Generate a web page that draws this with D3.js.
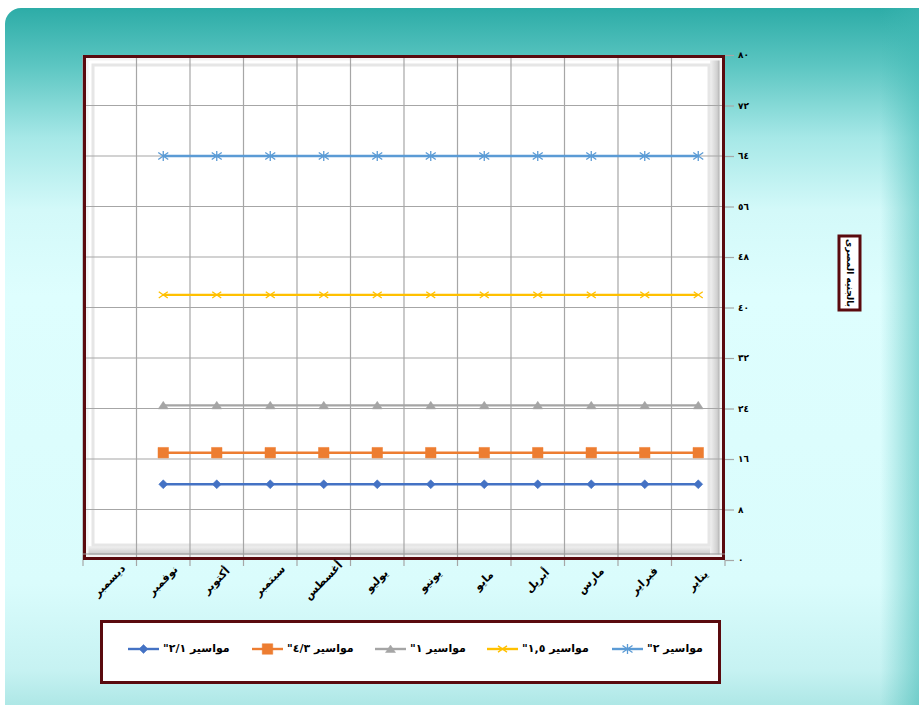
<!DOCTYPE html>
<html><head><meta charset="utf-8">
<script src="https://cdn.jsdelivr.net/npm/d3@7"></script>
<style>html,body{margin:0;padding:0;background:#fff}svg{display:block}</style>
</head><body><svg id="c" width="919" height="705"></svg>
<script>
// ---- data ----
const months = ['يناير','فبراير','مارس','أبريل','مايو','يونيو','يوليو','أغسطس','سبتمبر','أكتوبر','نوفمبر','ديسمبر'];
const seriesNames = ['مواسير ٢/١"','مواسير ٤/٣"','مواسير ١"','مواسير ١,٥"','مواسير ٢"'];
const pipeHalf      = [12,12,12,12,12,12,12,12,12,12,12,null];
const pipeThreeQtr  = [17,17,17,17,17,17,17,17,17,17,17,null];
const pipeOne       = [24.5,24.5,24.5,24.5,24.5,24.5,24.5,24.5,24.5,24.5,24.5,null];
const pipeOneHalf   = [42,42,42,42,42,42,42,42,42,42,42,null];
const pipeTwo       = [64,64,64,64,64,64,64,64,64,64,64,null];
const yTicks = [0,8,16,24,32,40,48,56,64,72,80];
const yTickLabels = ['٠','٨','١٦','٢٤','٣٢','٤٠','٤٨','٥٦','٦٤','٧٢','٨٠'];
const yTitle = 'بالجنيه المصرى';

const seriesValues = [pipeHalf, pipeThreeQtr, pipeOne, pipeOneHalf, pipeTwo];
const colors = ['#4472C4','#ED7D31','#A5A5A5','#FFC000','#5B9BD5'];
const markers = ['diamond','square','triangle','x','asterisk'];

const svg = d3.select('#c');
const FONT = '"DejaVu Sans", "Liberation Sans", sans-serif';
const maroon = '#5A0A0E';

// ---- background ----
const defs = svg.append('defs');
const bg = defs.append('linearGradient').attr('id','bg').attr('x1',0).attr('y1',0).attr('x2',0).attr('y2',1);
[[0,'#2DACA7'],[0.08,'#5CC6C2'],[0.18,'#A6E8E7'],[0.28,'#D3F9F9'],[0.4,'#DEFEFE'],[0.8,'#DAFCFC'],[0.92,'#C6F2F2'],[1,'#9EE0DE']]
  .forEach(s=>bg.append('stop').attr('offset',s[0]).attr('stop-color',s[1]));
const bgr = defs.append('linearGradient').attr('id','bgr').attr('x1',0).attr('y1',0).attr('x2',1).attr('y2',0);
[[0,'#3FB8B3',0],[1,'#3FB8B3',0.55]].forEach(s=>bgr.append('stop').attr('offset',s[0]).attr('stop-color',s[1]).attr('stop-opacity',s[2]));
svg.append('rect').attr('x',5).attr('y',8).attr('width',940).attr('height',720).attr('rx',16).attr('fill','url(#bg)');
svg.append('rect').attr('x',880).attr('y',8).attr('width',39).attr('height',720).attr('fill','url(#bgr)');

// ---- plot geometry ----
const L = 83, R = 725, T = 55, B = 560;
const x = d3.scaleBand().domain(months).range([R, L]);
const y = d3.scaleLinear().domain([0, 80]).range([B, T]);
const bw = x.bandwidth();

// plot area with bevel
svg.append('rect').attr('x',L).attr('y',T).attr('width',R-L).attr('height',B-T).attr('fill','#fff');
const gB = defs.append('linearGradient').attr('id','gb').attr('x1',0).attr('y1',0).attr('x2',0).attr('y2',1);
[[0,'#F2F2F2'],[0.6,'#D0D0D0'],[1,'#8C8C8C']].forEach(s=>gB.append('stop').attr('offset',s[0]).attr('stop-color',s[1]));
const gR = defs.append('linearGradient').attr('id','gr').attr('x1',0).attr('y1',0).attr('x2',1).attr('y2',0);
[[0,'#F2F2F2'],[0.6,'#D0D0D0'],[1,'#8C8C8C']].forEach(s=>gR.append('stop').attr('offset',s[0]).attr('stop-color',s[1]));
svg.append('rect').attr('x',L+3).attr('y',B-14).attr('width',R-L-6).attr('height',12).attr('fill','url(#gb)');
svg.append('rect').attr('x',R-15).attr('y',T+3).attr('width',12).attr('height',B-T-6).attr('fill','url(#gr)');
svg.append('rect').attr('x',L+10).attr('y',T+10).attr('width',R-L-26).attr('height',B-T-25)
  .attr('fill','none').attr('stroke','#E6E6E6').attr('stroke-width',3);
svg.append('rect').attr('x',L+4).attr('y',T+4).attr('width',R-L-8).attr('height',B-T-8)
  .attr('fill','none').attr('stroke','#F4F4F4').attr('stroke-width',3);

// gridlines
const grid = svg.append('g').attr('stroke','#A6A6A6').attr('stroke-width',1.2);
months.forEach(m=>{
  grid.append('line').attr('x1',x(m)).attr('x2',x(m)).attr('y1',T).attr('y2',B+6);
});
grid.append('line').attr('x1',R).attr('x2',R).attr('y1',B).attr('y2',B+6);
yTicks.slice(1,-1).forEach(t=>{
  grid.append('line').attr('x1',L).attr('x2',R).attr('y1',y(t)).attr('y2',y(t));
});

// frame
svg.append('rect').attr('x',L+1.5).attr('y',T+1.5).attr('width',R-L-3).attr('height',B-T-3)
  .attr('fill','none').attr('stroke',maroon).attr('stroke-width',3);
svg.append('line').attr('x1',L).attr('x2',R).attr('y1',B-6).attr('y2',B-6).attr('stroke','#9A9A9A').attr('stroke-width',1);

// right axis
const yAxis = d3.axisRight(y).tickValues(yTicks).tickFormat((d,i)=>yTickLabels[i]).tickSize(9).tickPadding(4);
const ya = svg.append('g').attr('transform',`translate(${R},0)`).call(yAxis);
ya.select('.domain').remove();
ya.selectAll('.tick line').attr('stroke','#A6A6A6').attr('stroke-width',1.2);
ya.selectAll('.tick text').attr('font-family',FONT).attr('font-size',9).attr('font-weight','bold').attr('fill','#000');

// x labels
const xl = svg.append('g');
months.forEach(m=>{
  const cx = x(m) + bw/2, cy = 581;
  xl.append('text').attr('transform',`translate(${cx},${cy}) rotate(-45)`)
    .attr('text-anchor','middle').attr('dominant-baseline','middle')
    .attr('font-family',FONT).attr('font-size',11).attr('font-weight','bold').attr('fill','#000')
    .text(m);
});

// markers
function markerPath(type, s){
  const h = s/2;
  if(type==='diamond') return `M0,${-h}L${h},0L0,${h}L${-h},0Z`;
  if(type==='square') return `M${-h},${-h}H${h}V${h}H${-h}Z`;
  if(type==='triangle') return `M0,${-h*0.8}L${h},${h*0.7}L${-h},${h*0.7}Z`;
  if(type==='x') return `M${-h},${-h*0.7}L${h},${h*0.7}M${-h},${h*0.7}L${h},${-h*0.7}`;
  return `M${-h},${-h*0.7}L${h},${h*0.7}M${-h},${h*0.7}L${h},${-h*0.7}M0,${-h}V${h}`;
}
const markerSize = {diamond:9, square:10.5, triangle:10, x:9, asterisk:10};
function drawMarker(g, type, color, px, py){
  const p = g.append('path').attr('transform',`translate(${px},${py})`).attr('d',markerPath(type, markerSize[type]));
  if(type==='x'||type==='asterisk') p.attr('fill','none').attr('stroke',color).attr('stroke-width',1.3);
  else p.attr('fill',color).attr('stroke',color).attr('stroke-width',0.5);
}

// series
const line = d3.line().defined(d=>d.v!=null).x(d=>x(d.m)+bw/2).y(d=>y(d.v));
seriesValues.forEach((vals,si)=>{
  const pts = vals.map((v,i)=>({m:months[i], v}));
  const g = svg.append('g');
  g.append('path').datum(pts).attr('d',line).attr('fill','none').attr('stroke',colors[si]).attr('stroke-width',2.4);
  pts.filter(d=>d.v!=null).forEach(d=>drawMarker(g, markers[si], colors[si], x(d.m)+bw/2, y(d.v)));
});

// y title box
svg.append('rect').attr('x',839).attr('y',236).attr('width',21).attr('height',74).attr('fill','#fff').attr('stroke',maroon).attr('stroke-width',3);
svg.append('text').attr('transform','translate(849.5,273) rotate(90)')
  .attr('text-anchor','middle').attr('dominant-baseline','middle')
  .attr('font-family',FONT).attr('font-size',9).attr('font-weight','bold').attr('fill','#000')
  .text(yTitle);

// legend
svg.append('rect').attr('x',101.5).attr('y',621.5).attr('width',618).attr('height',61).attr('fill','#fff').attr('stroke',maroon).attr('stroke-width',3);
const legLineX = [128, 252, 375, 487, 612];
const legY = 649;
seriesNames.forEach((name,si)=>{
  const lx = legLineX[si];
  svg.append('line').attr('x1',lx).attr('x2',lx+31).attr('y1',legY).attr('y2',legY).attr('stroke',colors[si]).attr('stroke-width',2.4);
  drawMarker(svg, markers[si], colors[si], lx+15.5, legY);
  svg.append('text').attr('x',lx+35).attr('y',legY).attr('direction','rtl').attr('text-anchor','end')
    .attr('dominant-baseline','middle')
    .attr('font-family',FONT).attr('font-size',11).attr('font-weight','bold').attr('fill','#000')
    .text(name);
});
</script></body></html>
